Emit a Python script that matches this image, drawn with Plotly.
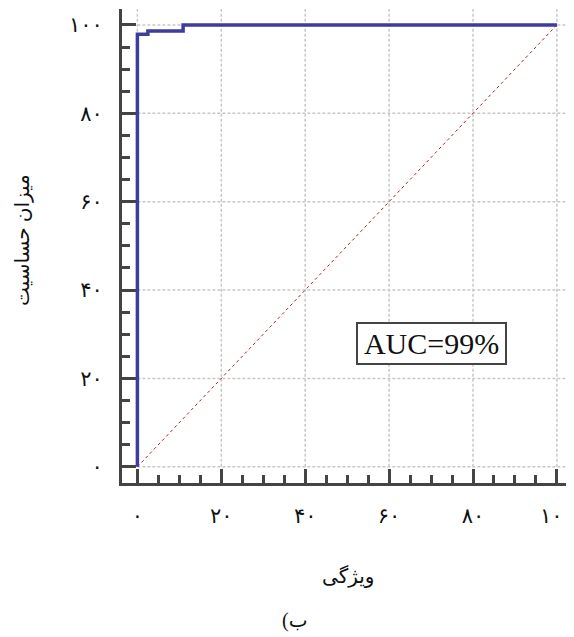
import plotly.graph_objects as go

# ROC curve (1 - specificity %, sensitivity %)
fpr = [0, 0, 2.5, 10.9, 100]
tpr = [0, 97.9, 98.6, 100, 100]
diag_x = [0, 100]
diag_y = [0, 100]

tick_vals = [0, 20, 40, 60, 80, 100]
tick_text = ["۰", "۲۰", "۴۰", "۶۰", "۸۰", "۱۰۰"]
grid_vals = [0, 20, 40, 60, 80, 100]

x_title = "ویژگی"
y_title = "میزان حساسیت"
caption = "\u202d(ب\u202c"
auc_text = "AUC=99%"

RMIN, RMAX = -3.67, 103.6
axis_col = "#444444"
fa = "Liberation Serif, DejaVu Sans, serif"

fig = go.Figure()
fig.add_trace(go.Scatter(x=diag_x, y=diag_y, mode="lines",
                         line=dict(color="#b22222", width=1, dash="dot"),
                         hoverinfo="skip", showlegend=False))
fig.add_trace(go.Scatter(x=fpr, y=tpr, mode="lines", line_shape="hv",
                         line=dict(color="#3d3d9e", width=3.5),
                         showlegend=False))

shapes = []
for v in grid_vals:
    shapes.append(dict(type="line", xref="x", yref="y", x0=0, x1=RMAX, y0=v, y1=v,
                       line=dict(color="#c8c8c8", width=1.5, dash="3px,2px"), layer="below"))
    shapes.append(dict(type="line", xref="x", yref="y", x0=v, x1=v, y0=0, y1=RMAX,
                       line=dict(color="#c8c8c8", width=1.5, dash="3px,2px"), layer="below"))

axis_common = dict(range=[RMIN, RMAX], showgrid=False, zeroline=False, automargin=False,
                   showline=True, linecolor=axis_col, linewidth=3,
                   ticks="inside", ticklen=14, tickwidth=2.5, tickcolor=axis_col,
                   tickvals=tick_vals, ticktext=tick_text,
                   tickfont=dict(family=fa, size=21, color="#111111"),
                   minor=dict(dtick=5, tick0=0, ticks="inside", ticklen=8,
                              tickwidth=2.5, tickcolor=axis_col, showgrid=False),
                   fixedrange=True)

# page body has an 8px margin, so the figure is 8px smaller and shifted
fig.update_layout(
    width=566, height=629,
    margin=dict(l=114, r=2, t=1, b=154),
    paper_bgcolor="white", plot_bgcolor="white",
    xaxis=dict(**axis_common, ticklabelstandoff=12),
    yaxis=dict(**axis_common, ticklabelstandoff=12),
    shapes=shapes,
    annotations=[
        dict(x=70.2, y=28, xref="x", yref="y", text=auc_text, showarrow=False,
             xanchor="center", yanchor="middle", width=141, height=33,
             font=dict(family="Liberation Serif, Times New Roman, serif", size=30, color="#111111"),
             bordercolor="#444444", borderwidth=2, borderpad=3, bgcolor="white"),
        dict(x=(348 - 122) / 450, y=(483 - 576) / 474, xref="paper", yref="paper",
             xanchor="center", yanchor="middle",
             text=x_title, showarrow=False,
             font=dict(family=fa, size=20, color="#111111")),
        dict(x=(22 - 122) / 450, y=(483 - 240) / 474, xref="paper", yref="paper",
             xanchor="center", yanchor="middle",
             text=y_title, showarrow=False, textangle=-90,
             font=dict(family=fa, size=20, color="#111111")),
        dict(x=(295 - 122) / 450, y=(483 - 620) / 474, xref="paper", yref="paper",
             xanchor="center", yanchor="middle",
             text=caption, showarrow=False,
             font=dict(family=fa, size=20, color="#111111")),
    ],
)

fig.write_html("out.html")
